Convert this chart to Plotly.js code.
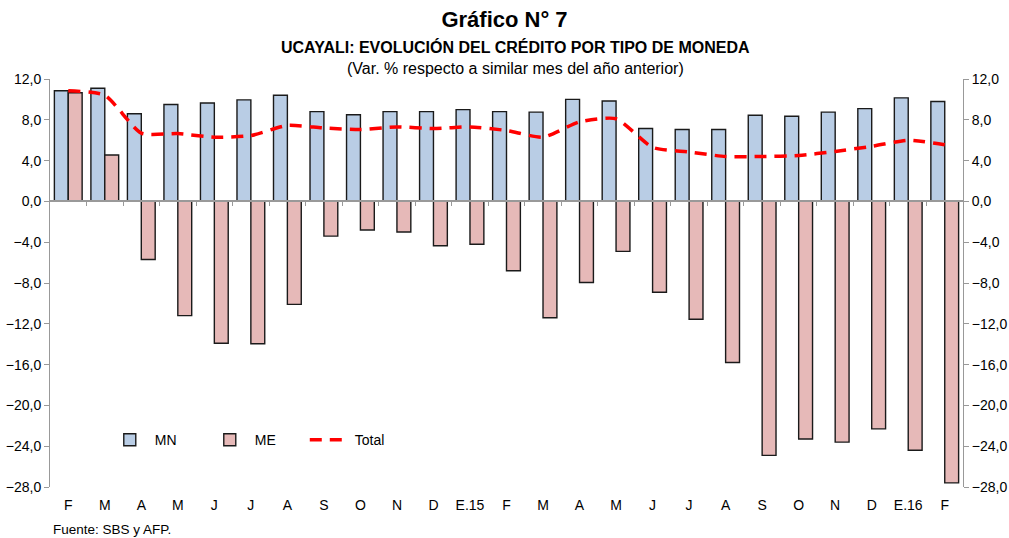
<!DOCTYPE html>
<html>
<head>
<meta charset="utf-8">
<script src="https://cdn.plot.ly/plotly-3.0.1.min.js"></script>
<style>html,body{margin:0;padding:0;background:#fff;}#chart{width:1009px;height:538px;}</style>
</head>
<body>
<div id="chart"></div>
<script>
var categories = ["F","M","A","M","J","J","A","S","O","N","D","E.15","F","M","A","M","J","J","A","S","O","N","D","E.16","F"];
var mn = [10.85,11.1,8.6,9.5,9.65,9.95,10.4,8.8,8.5,8.8,8.8,9.0,8.8,8.75,10.0,9.85,7.15,7.05,7.05,8.45,8.35,8.75,9.1,10.15,9.8];
var me = [10.65,4.55,-5.7,-11.2,-13.9,-13.95,-10.1,-3.4,-2.8,-3.0,-4.35,-4.2,-6.8,-11.4,-7.95,-4.9,-8.9,-11.55,-15.8,-24.9,-23.3,-23.6,-22.3,-24.4,-27.6];
var total = [10.85,10.4,6.7,6.65,6.3,6.45,7.45,7.2,7.05,7.3,7.15,7.3,6.95,6.3,7.8,8.1,5.3,4.85,4.4,4.4,4.5,4.9,5.4,6.0,5.55];
var yTicks = [12,8,4,0,-4,-8,-12,-16,-20,-24,-28];

var xs = categories.map(function(c,i){return i;});
var FONT = 'Liberation Sans, Arial, sans-serif';
var traces = [
  {type:'bar', name:'MN', x:xs, y:mn, marker:{color:'#B9CDE5', line:{color:'#1a1a1a', width:1.4}}},
  {type:'bar', name:'ME', x:xs, y:me, marker:{color:'#E6B9B8', line:{color:'#1a1a1a', width:1.4}}},
  {type:'scatter', mode:'lines', name:'Total', x:xs, y:total, line:{color:'#FF0000', width:3.5, dash:'12px,8px', shape:'spline', smoothing:0.6}}
];
var tickFont = {family:FONT, size:14, color:'#000'};
var layout = {
  width:1009, height:538,
  margin:{l:50, r:46, t:79, b:51},
  paper_bgcolor:'#fff', plot_bgcolor:'#fff',
  separators:',.',
  barmode:'group', bargap:0.24, bargroupgap:0,
  showlegend:true,
  legend:{orientation:'h', x:0.06, y:0.115, xanchor:'left', yanchor:'middle', font:{family:FONT, size:14, color:'#000'}, bgcolor:'rgba(0,0,0,0)', itemwidth:40, entrywidth:45, entrywidthmode:'pixels', tracegroupgap:0},
  xaxis:{type:'linear', range:[-0.5,24.5], tickvals:xs, ticktext:categories, showline:false, showgrid:false, zeroline:false, ticks:'outside', ticklen:5, tickcolor:'rgba(0,0,0,0)', tickfont:tickFont, fixedrange:true},
  xaxis2:{type:'linear', overlaying:'x', anchor:'free', position:0.7, matches:'x', range:[-0.5,24.5], tickvals:xs.map(function(v){return v+0.5;}).slice(0,24), showline:true, linecolor:'#999', linewidth:2, ticks:'outside', ticklen:4, tickcolor:'#999', showticklabels:false, showgrid:false, zeroline:false},
  yaxis:{range:[-28,12], tickvals:yTicks, tickformat:'.1f', showline:true, linecolor:'#999', linewidth:1, ticks:'outside', ticklen:5, tickcolor:'#999', showgrid:false, zeroline:false, tickfont:tickFont},
  yaxis2:{range:[-28,12], overlaying:'y', side:'right', tickvals:yTicks, tickformat:'.1f', showline:true, linecolor:'#999', linewidth:1, ticks:'outside', ticklen:5, tickcolor:'#999', showgrid:false, zeroline:false, tickfont:tickFont},
  title:{text:'<b>Gráfico N° 7</b>', x:0.5, xanchor:'center', y:0.965, yanchor:'middle', font:{family:FONT, size:22, color:'#000'}},
  annotations:[
    {text:'<b>UCAYALI: EVOLUCIÓN DEL CRÉDITO POR TIPO DE MONEDA</b>', xref:'paper', yref:'paper', x:0.5, y:1, xshift:9, yshift:32, xanchor:'center', yanchor:'middle', showarrow:false, font:{family:FONT, size:16, color:'#000'}},
    {text:'(Var. % respecto a similar mes del año anterior)', xref:'paper', yref:'paper', x:0.5, y:1, xshift:9, yshift:11, xanchor:'center', yanchor:'middle', showarrow:false, font:{family:FONT, size:16, color:'#000'}},
    {text:'Fuente: SBS y AFP.', xref:'paper', yref:'paper', x:0, y:0, xshift:1, yshift:-42, xanchor:'left', yanchor:'middle', showarrow:false, font:{family:FONT, size:13.5, color:'#000'}}
  ]
};
traces.push({type:'scatter', x:[0], y:[0], xaxis:'x2', yaxis:'y2', mode:'markers', marker:{opacity:0}, showlegend:false, hoverinfo:'skip'});
Plotly.newPlot('chart', traces, layout, {displayModeBar:false, staticPlot:true});
</script>
</body>
</html>
